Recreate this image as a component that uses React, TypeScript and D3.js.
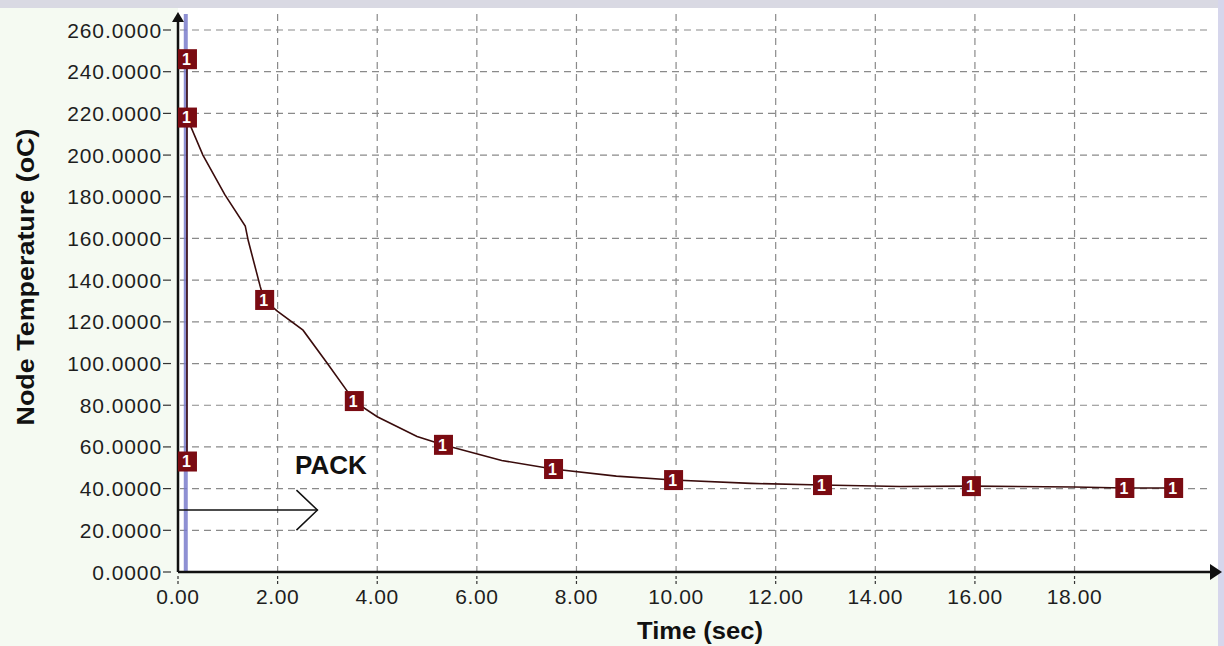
import React from "react";
import * as d3 from "d3";

const yTicks = [0, 20, 40, 60, 80, 100, 120, 140, 160, 180, 200, 220, 240, 260];
const xTicks = [0, 2, 4, 6, 8, 10, 12, 14, 16, 18];

// line samples (time in sec, temperature in oC)
const lineTime = [0.18, 0.18, 0.18, 0.5, 0.94, 1.35, 1.41, 1.65, 1.73, 2.0, 2.51, 3.0, 3.39, 3.53, 4.0, 4.8, 5.32, 6.5, 7.53, 8.8, 9.94, 11.5, 12.93, 14.5, 15.92, 18.0, 19.0, 19.98];
const lineTemp = [53, 246, 218, 200, 181, 166, 159, 137, 130.5, 125, 116, 100, 87, 82, 74.5, 65, 61, 53.5, 49.4, 46, 44.1, 42.5, 41.7, 41, 41.2, 40.8, 40.3, 40.3];

// labelled markers
const markerTime = [0.18, 0.18, 0.18, 1.73, 3.53, 5.32, 7.53, 9.94, 12.93, 15.92, 19.0, 19.98];
const markerTemp = [53, 246, 218, 130.5, 82, 61, 49.4, 44.1, 41.7, 41.2, 40.3, 40.3];
const markerLabel = ["1", "1", "1", "1", "1", "1", "1", "1", "1", "1", "1", "1"];

const cursorTime = [0.15];
const packArrow = { label: "PACK", fromT: 0, toT: 2.8, temp: 29.7 };

export default function App() {
  const W = 1224, H = 646;
  const x = d3.scaleLinear().domain([0, 20.8]).range([178, 1214]);
  const y = d3.scaleLinear().domain([0, 260]).range([572, 30]);
  const plotTop = 14;
  const plotRight = 1212;

  const pts: [number, number][] = lineTime.map((t, i) => [x(t), y(lineTemp[i])]);
  const linePath = d3.line().curve(d3.curveLinear)(pts) || "";

  const font = "'Liberation Sans', Arial, sans-serif";
  const ay = y(packArrow.temp);
  const ax1 = x(packArrow.toT);

  return (
    <svg width={W} height={H} style={{ position: "absolute", left: 0, top: 0 }} fontFamily={font}>
      <rect x={0} y={0} width={W} height={H} fill="#f5faf2" />
      <rect x={178} y={8} width={1040} height={564} fill="#ffffff" />
      <rect x={0} y={0} width={W} height={8} fill="#d9d9e3" />
      <rect x={1218} y={0} width={6} height={H} fill="#d6d6ec" />

      {/* grid */}
      {yTicks.filter((v) => v > 0).map((v) => (
        <line key={"gy" + v} x1={180} x2={plotRight} y1={y(v)} y2={y(v)} stroke="#8a8a8a" strokeWidth={1.2} strokeDasharray="7,5" />
      ))}
      {xTicks.filter((v) => v > 0).map((v) => (
        <line key={"gx" + v} x1={x(v)} x2={x(v)} y1={plotTop} y2={572} stroke="#8a8a8a" strokeWidth={1.2} strokeDasharray="7,5" />
      ))}

      {/* y ticks */}
      {yTicks.map((v) => (
        <g key={"ty" + v}>
          <line x1={163} x2={171} y1={y(v)} y2={y(v)} stroke="#333" strokeWidth={1.2} />
          <text x={162} y={y(v)} dy="0.36em" textAnchor="end" fontSize={21} letterSpacing={0.9} fill="#1e1e1e">
            {d3.format(".4f")(v)}
          </text>
        </g>
      ))}
      {/* x ticks */}
      {xTicks.map((v) => (
        <g key={"tx" + v}>
          <line x1={x(v)} x2={x(v)} y1={576} y2={584} stroke="#333" strokeWidth={1.2} strokeDasharray="3,2" />
          <text x={x(v)} y={604} textAnchor="middle" fontSize={21} letterSpacing={0.6} fill="#1e1e1e">
            {d3.format(".2f")(v)}
          </text>
        </g>
      ))}

      {/* cursor line */}
      {cursorTime.map((t) => (
        <line key={"c" + t} x1={x(t) + 0.3} x2={x(t) + 0.3} y1={plotTop} y2={572} stroke="#7b7dcc" strokeWidth={4} opacity={0.85} />
      ))}

      {/* axes */}
      <line x1={178} x2={178} y1={572} y2={20} stroke="#111" strokeWidth={2.5} />
      <path d={`M172,22 L178,12 L184,22 Z`} fill="#111" />
      <line x1={178} x2={1212} y1={572} y2={572} stroke="#111" strokeWidth={2.5} />
      <path d={`M1210,564 L1222,572 L1210,580 Z`} fill="#111" />

      {/* series */}
      <path d={linePath} fill="none" stroke="#3a0c0c" strokeWidth={1.6} />
      {markerTime.map((t, i) => (
        <g key={"m" + i} transform={`translate(${x(t) + 0.5},${y(markerTemp[i])})`}>
          <rect x={-9.5} y={-10} width={19} height={20} fill="#7a0b12" />
          <text x={-1} y={0} dy="0.37em" textAnchor="middle" fontSize={16} fontWeight="bold" fill="#fff">
            {markerLabel[i]}
          </text>
        </g>
      ))}

      {/* PACK annotation */}
      <text x={295} y={474} fontSize={26} fontWeight="bold" fill="#111">{packArrow.label}</text>
      <line x1={x(packArrow.fromT)} x2={ax1} y1={ay} y2={ay} stroke="#111" strokeWidth={1.5} />
      <polyline points={`${ax1 - 21},${ay - 20} ${ax1},${ay} ${ax1 - 21},${ay + 20}`} fill="none" stroke="#111" strokeWidth={1.5} />

      {/* titles */}
      <text x={700} y={639} textAnchor="middle" fontSize={24} fontWeight="bold" fill="#111" textLength={126} lengthAdjust="spacingAndGlyphs">Time (sec)</text>
      <text transform={`translate(34,277) rotate(-90)`} textAnchor="middle" fontSize={23} fontWeight="bold" fill="#111" textLength={297} lengthAdjust="spacingAndGlyphs">
        Node Temperature (oC)
      </text>
    </svg>
  );
}
